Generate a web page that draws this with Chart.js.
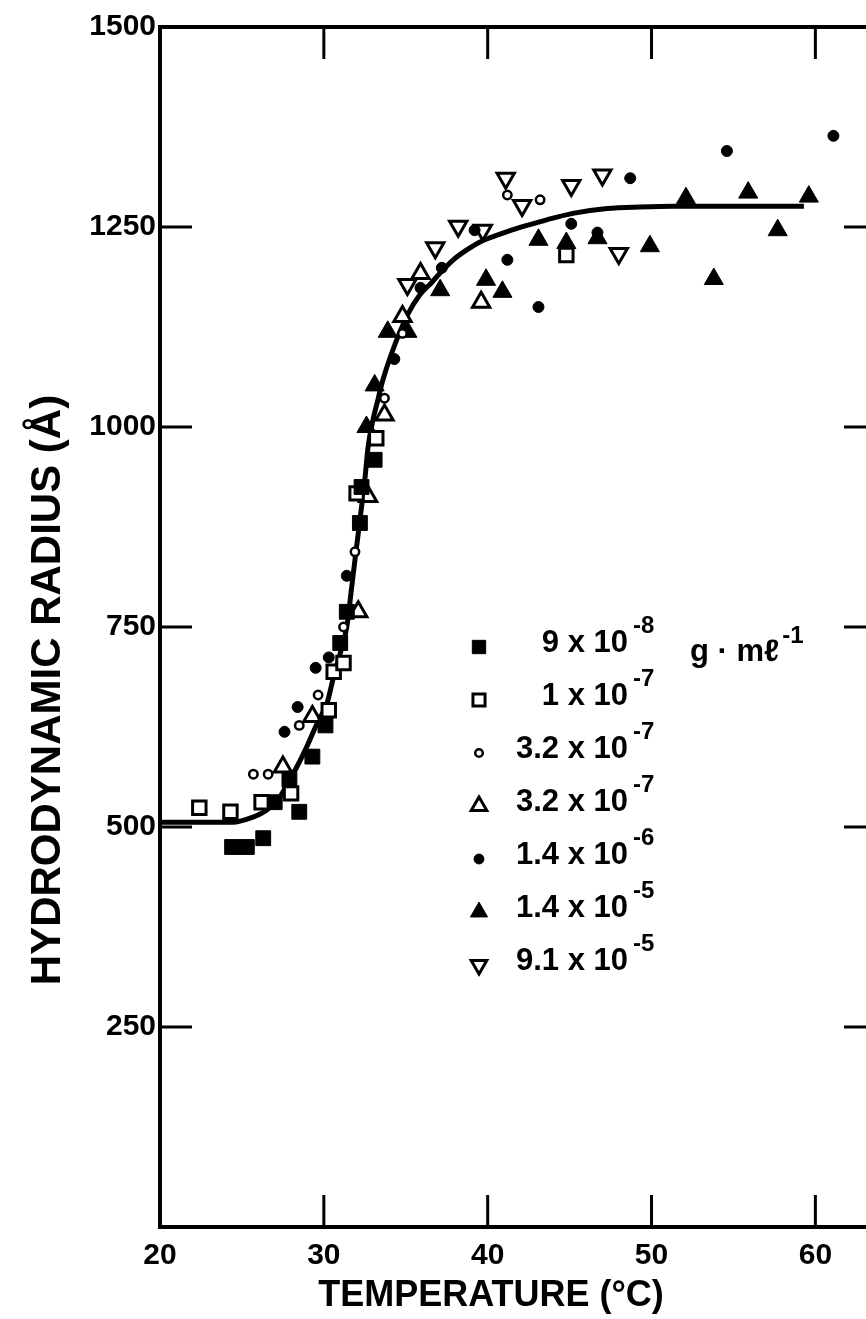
<!DOCTYPE html>
<html>
<head>
<meta charset="utf-8">
<script src="https://cdn.jsdelivr.net/npm/chart.js@4.4.0/dist/chart.umd.min.js"></script>
<style>
html,body{margin:0;padding:0;overflow:hidden;background:#fff;}
canvas{display:block;}
</style>
</head>
<body>
<canvas id="radius_chart" width="880" height="1319"></canvas>
<script>
// axis ticks
var xTicks = [20, 30, 40, 50, 60];
var yTicks = [250, 500, 750, 1000, 1250, 1500];
var xTitle = "TEMPERATURE (°C)";
var yTitle = "HYDRODYNAMIC RADIUS (Å)";

// concentrations (g·mℓ-1)
var concText = ["9", "1", "3.2", "3.2", "1.4", "1.4", "9.1"];
var concExp = ["-8", "-7", "-7", "-7", "-6", "-5", "-5"];
var unitText = "g · mℓ";
var unitExp = "-1";

// 9 x 10-8 (filled square)
var t1 = [24.4, 25.3, 26.3, 27.0, 27.9, 28.5, 29.3, 30.1, 31.0, 31.4, 32.2, 32.3, 33.1];
var r1 = [475, 475, 486, 531, 559, 519, 588, 627, 730, 769, 880, 925, 959];
// 1 x 10-7 (open square)
var t2 = [22.4, 24.3, 26.2, 28.0, 30.3, 30.6, 31.2, 32.0, 33.2, 44.8];
var r2 = [524, 519, 531, 542, 646, 694, 705, 917, 986, 1215];
// 3.2 x 10-7 (open circle)
var t3 = [25.7, 26.6, 28.5, 29.65, 31.2, 31.9, 33.7, 34.8, 41.2, 43.2];
var r3 = [566, 566, 627, 665, 750, 844, 1036, 1117, 1290, 1284];
// 3.2 x 10-7 (open triangle)
var t4 = [27.5, 29.3, 32.1, 32.7, 33.7, 34.8, 35.9, 39.6];
var r4 = [575, 638, 769, 913, 1015, 1138, 1192, 1156];
// 1.4 x 10-6 (filled circle)
var t5 = [27.6, 28.4, 29.5, 30.3, 31.4, 34.3, 35.9, 37.2, 39.2, 41.2, 43.1, 45.1, 46.7, 48.7, 54.6, 61.1];
var r5 = [619, 650, 699, 712, 814, 1085, 1174, 1199, 1246, 1209, 1150, 1254, 1243, 1311, 1345, 1364];
// 1.4 x 10-5 (filled triangle)
var t6 = [32.6, 33.1, 33.9, 35.1, 37.1, 39.9, 40.9, 43.1, 44.8, 46.7, 49.9, 52.1, 53.8, 55.9, 57.7, 59.6];
var r6 = [1000, 1052, 1119, 1119, 1171, 1184, 1169, 1234, 1230, 1236, 1226, 1286, 1185, 1293, 1246, 1288];
// 9.1 x 10-5 (open inverted triangle)
var t7 = [35.1, 36.8, 38.2, 39.7, 41.1, 42.1, 45.1, 47.0, 48.0];
var r7 = [1178, 1224, 1251, 1246, 1311, 1277, 1302, 1315, 1217];

// fitted curve
var fitT = [20, 24.45, 25.5, 26.5, 27.3, 27.8, 28.35, 28.95, 29.6, 30.2, 30.55, 31.0, 31.4, 31.7, 31.9, 32.1, 32.3, 32.5, 32.7, 33.0, 33.3, 33.55, 34.1, 35.1, 35.85, 36.6, 37.25, 37.9, 38.7, 39.5, 40.2, 41.15, 42.4, 43.6, 45.2, 47.3, 49.3, 51.3, 55.4, 59.3];
var fitR = [506, 506, 511, 521, 537, 555, 575, 600, 630, 655, 684, 717, 750, 800, 834, 867, 900, 934, 975, 1009, 1034, 1055, 1090, 1140, 1165, 1181, 1196, 1209, 1221, 1231, 1237, 1244, 1252, 1259, 1267, 1273, 1275, 1276, 1276, 1276];

var fontFam = '"Liberation Sans", Arial, sans-serif';

function pts(xs, ys){
    let out = [];
    for(let i=0; i<xs.length; i++){
        out.push({x: xs[i], y: ys[i]});
    }
    return out;
}

function series(i, xs, ys, style, filled, radius, bw, rot){
    return {
        label: concText[i] + " x 10" + concExp[i],
        data: pts(xs, ys),
        pointStyle: style,
        pointRadius: radius,
        pointHoverRadius: radius,
        pointRotation: rot || 0,
        pointBackgroundColor: filled ? "#000" : "#fff",
        pointBorderColor: "#000",
        pointBorderWidth: bw
    };
}

var tickLen = 32;

var framePlugin = {
    id: "frame",
    beforeDatasetsDraw: function(chart){
        let ctx = chart.ctx, a = chart.chartArea;
        let xs = chart.scales.x, ys = chart.scales.y;
        ctx.save();
        ctx.strokeStyle = "#000";
        ctx.lineWidth = 4;
        ctx.beginPath();
        ctx.moveTo(a.left, a.bottom);
        ctx.lineTo(a.left, a.top);
        ctx.lineTo(a.right, a.top);
        ctx.lineTo(a.right, a.bottom);
        ctx.closePath();
        ctx.stroke();
        ctx.lineWidth = 3;
        ctx.beginPath();
        for(let i=0; i<xTicks.length; i++){
            if(xTicks[i] <= xs.min) continue;
            let px = xs.getPixelForValue(xTicks[i]);
            ctx.moveTo(px, a.bottom); ctx.lineTo(px, a.bottom - tickLen);
            ctx.moveTo(px, a.top); ctx.lineTo(px, a.top + tickLen);
        }
        for(let i=0; i<yTicks.length; i++){
            if(yTicks[i] >= ys.max) continue;
            let py = ys.getPixelForValue(yTicks[i]);
            ctx.moveTo(a.left, py); ctx.lineTo(a.left + tickLen, py);
            ctx.moveTo(a.right, py); ctx.lineTo(a.right - tickLen, py);
        }
        ctx.stroke();
        ctx.restore();
    },
    afterDraw: function(chart){
        let ctx = chart.ctx;
        ctx.save();
        ctx.fillStyle = "#000";
        // axis titles
        ctx.font = "bold 36px " + fontFam;
        ctx.textAlign = "center";
        ctx.textBaseline = "middle";
        ctx.fillText(xTitle, 491, 1296);
        ctx.save();
        ctx.translate(48, 690);
        ctx.rotate(-Math.PI / 2);
        ctx.font = "bold 42px " + fontFam;
        ctx.fillText(yTitle, 0, 0);
        ctx.restore();

        // legend
        let top = 643, gap = 53;
        for(let i=0; i<concText.length; i++){
            let ds = chart.data.datasets[i];
            let y = top + i * gap;
            ctx.fillStyle = ds.pointBackgroundColor;
            ctx.strokeStyle = "#000";
            ctx.lineWidth = ds.pointBorderWidth;
            Chart.helpers.drawPoint(ctx, {
                pointStyle: ds.pointStyle,
                radius: ds.pointRadius * 0.9,
                rotation: ds.pointRotation,
                borderWidth: ds.pointBorderWidth
            }, 479, y + 4);
            ctx.fillStyle = "#000";
            ctx.font = "bold 31px " + fontFam;
            ctx.textAlign = "right";
            ctx.textBaseline = "middle";
            ctx.fillText(concText[i] + " x 10", 628, y);
            ctx.font = "bold 24px " + fontFam;
            ctx.textAlign = "left";
            ctx.fillText(concExp[i], 633, y - 17);
        }
        ctx.font = "bold 31px " + fontFam;
        ctx.textAlign = "left";
        ctx.textBaseline = "middle";
        ctx.fillText(unitText, 690, 652);
        let uw = ctx.measureText(unitText).width;
        ctx.font = "bold 24px " + fontFam;
        ctx.fillText(unitExp, 690 + uw + 3, 636);
        ctx.restore();
    }
};

var radiusChart = new Chart(document.getElementById("radius_chart"), {
    type: "scatter",
    data: {
        datasets: [
            series(0, t1, r1, "rect", true, 10.5, 1),
            series(1, t2, r2, "rect", false, 9.5, 3),
            series(2, t3, r3, "circle", false, 4.2, 2.5),
            series(3, t4, r4, "triangle", false, 10, 3),
            series(4, t5, r5, "circle", true, 5.5, 1),
            series(5, t6, r6, "triangle", true, 11, 1),
            series(6, t7, r7, "triangle", false, 10, 3, 180),
            {
                label: "fit",
                data: pts(fitT, fitR),
                showLine: true,
                pointRadius: 0,
                borderColor: "#000",
                borderWidth: 5,
                cubicInterpolationMode: "monotone",
                fill: false,
                order: 10
            }
        ]
    },
    options: {
        responsive: false,
        animation: false,
        layout: {autoPadding: false, padding: {top: 27, right: 4, left: 0, bottom: 0}},
        plugins: {
            legend: {display: false},
            tooltip: {enabled: false}
        },
        scales: {
            x: {
                type: "linear",
                position: "bottom",
                min: 20,
                max: 63.7,
                grid: {display: false, drawTicks: false},
                border: {display: false},
                ticks: {
                    color: "#000", padding: 3, maxRotation: 0,
                    font: {family: fontFam, size: 30, weight: "bold", lineHeight: 1.7},
                    callback: function(v){ return String(v); }
                },
                afterBuildTicks: function(s){ s.ticks = xTicks.map(function(v){ return {value: v}; }); },
                afterFit: function(s){ s.height = 92; }
            },
            y: {
                type: "linear",
                position: "left",
                min: 0,
                max: 1500,
                grid: {display: false, drawTicks: false},
                border: {display: false},
                ticks: {
                    color: "#000", padding: 4,
                    font: {family: fontFam, size: 30, weight: "bold"},
                    callback: function(v){ return String(v); }
                },
                afterBuildTicks: function(s){ s.ticks = yTicks.map(function(v){ return {value: v}; }); },
                afterFit: function(s){ s.width = 160; }
            }
        }
    },
    plugins: [framePlugin]
});
</script>
</body>
</html>
